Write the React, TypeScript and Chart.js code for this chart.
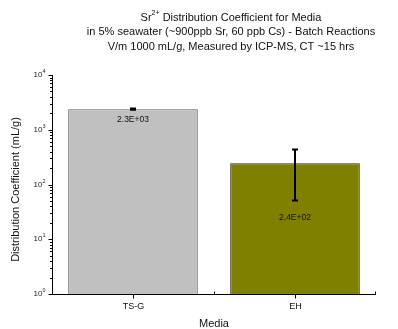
import React, { useEffect, useRef } from 'react';
import { Chart, registerables } from 'chart.js';

Chart.register(...registerables);

const categories = ['TS-G', 'EH'];
const kdValues = [2380, 244];
const kdErrors = [60, 193];
const valueLabels = ['2.3E+03', '2.4E+02'];
const labelOffsets = [10, 17];
const barColors = ['#c0c0c0', '#808000'];
const barBorders = ['#606060', '#2e2e00'];
const yTickExponents = [0, 1, 2, 3, 4];
const titleLine1 = [{ t: 'Sr' }, { t: '2+', sup: true }, { t: ' Distribution Coefficient for Media' }];
const titleLine2 = 'in 5% seawater (~900ppb Sr, 60 ppb Cs) - Batch Reactions';
const titleLine3 = 'V/m 1000 mL/g, Measured by ICP-MS, CT ~15 hrs';
const yAxisTitle = 'Distribution Coefficient (mL/g)';
const xAxisTitle = 'Media';

const FONT = '"Liberation Sans", Arial, sans-serif';

type Part = { t: string; sup?: boolean };

function drawParts(ctx: CanvasRenderingContext2D, parts: Part[], x: number, y: number, align: 'center' | 'right', size: number, supSize: number) {
  const widths = parts.map((p) => {
    ctx.font = `${p.sup ? supSize : size}px ${FONT}`;
    return ctx.measureText(p.t).width;
  });
  const total = widths.reduce((a, b) => a + b, 0);
  let cx = align === 'center' ? x - total / 2 : x - total;
  ctx.textAlign = 'left';
  ctx.textBaseline = 'middle';
  parts.forEach((p, i) => {
    ctx.font = `${p.sup ? supSize : size}px ${FONT}`;
    ctx.fillText(p.t, cx, p.sup ? y - size * 0.38 : y);
    cx += widths[i];
  });
}

const decorPlugin = {
  id: 'decor',
  afterDatasetsDraw(chart: any) {
    const ctx: CanvasRenderingContext2D = chart.ctx;
    const x = chart.scales.x;
    const y = chart.scales.y;
    ctx.save();
    ctx.strokeStyle = '#000';
    ctx.lineWidth = 2;
    kdValues.forEach((v, i) => {
      const px = x.getPixelForValue(i);
      const top = y.getPixelForValue(v + kdErrors[i]);
      const bot = y.getPixelForValue(v - kdErrors[i]);
      ctx.beginPath();
      ctx.moveTo(px, top);
      ctx.lineTo(px, bot);
      ctx.moveTo(px - 3, top);
      ctx.lineTo(px + 3, top);
      ctx.moveTo(px - 3, bot);
      ctx.lineTo(px + 3, bot);
      ctx.stroke();
    });
    ctx.fillStyle = '#111';
    ctx.font = `8.5px ${FONT}`;
    ctx.textAlign = 'center';
    ctx.textBaseline = 'middle';
    kdValues.forEach((v, i) => {
      const px = x.getPixelForValue(i);
      const bot = y.getPixelForValue(v - kdErrors[i]);
      ctx.fillText(valueLabels[i], px, bot + labelOffsets[i]);
    });
    ctx.restore();
  },
  afterDraw(chart: any) {
    const ctx: CanvasRenderingContext2D = chart.ctx;
    const area = chart.chartArea;
    const x = chart.scales.x;
    const y = chart.scales.y;
    ctx.save();
    ctx.strokeStyle = '#000';
    ctx.fillStyle = '#000';
    ctx.lineWidth = 1;
    const ax = Math.round(area.left) + 0.5;
    const ay = Math.round(area.bottom) + 0.5;
    ctx.beginPath();
    ctx.moveTo(ax, area.top);
    ctx.lineTo(ax, ay);
    ctx.lineTo(area.right, ay);
    ctx.stroke();
    yTickExponents.forEach((e) => {
      const py = Math.round(y.getPixelForValue(Math.pow(10, e))) + 0.5;
      ctx.beginPath();
      ctx.moveTo(ax - 4, py);
      ctx.lineTo(ax, py);
      ctx.stroke();
      ctx.fillStyle = '#222';
      drawParts(ctx, [{ t: '10' }, { t: String(e), sup: true }], ax - 7, py - 1, 'right', 8, 5.5);
      if (e < yTickExponents[yTickExponents.length - 1]) {
        for (let k = 2; k <= 9; k++) {
          const my = Math.round(y.getPixelForValue(k * Math.pow(10, e))) + 0.5;
          ctx.beginPath();
          ctx.moveTo(ax - 2.5, my);
          ctx.lineTo(ax, my);
          ctx.stroke();
        }
      }
    });
    categories.forEach((c, i) => {
      const px = Math.round(x.getPixelForValue(i)) + 0.5;
      ctx.beginPath();
      ctx.moveTo(px, ay);
      ctx.lineTo(px, ay + 4);
      ctx.stroke();
      ctx.fillStyle = '#111';
      ctx.font = `9px ${FONT}`;
      ctx.textAlign = 'center';
      ctx.textBaseline = 'middle';
      ctx.fillText(c, px, ay + 12);
    });
    const midX = Math.round((x.getPixelForValue(0) + x.getPixelForValue(1)) / 2) + 0.5;
    [midX, Math.round(area.right) - 0.5].forEach((px) => {
      ctx.beginPath();
      ctx.moveTo(px, ay - 3);
      ctx.lineTo(px, ay);
      ctx.stroke();
    });
    ctx.fillStyle = '#111';
    ctx.font = `11px ${FONT}`;
    ctx.textAlign = 'center';
    ctx.textBaseline = 'middle';
    ctx.fillText(xAxisTitle, (area.left + area.right) / 2, ay + 29);
    ctx.save();
    ctx.translate(16, (area.top + area.bottom) / 2 + 5);
    ctx.rotate(-Math.PI / 2);
    ctx.fillText(yAxisTitle, 0, 0);
    ctx.restore();
    const tx = 231;
    ctx.fillStyle = '#111';
    drawParts(ctx, titleLine1, tx, 17.5, 'center', 11, 7);
    ctx.font = `11px ${FONT}`;
    ctx.textAlign = 'center';
    ctx.textBaseline = 'middle';
    ctx.fillText(titleLine2, tx, 32);
    ctx.fillText(titleLine3, tx, 46.5);
    ctx.restore();
  },
};

export default function App() {
  const ref = useRef<HTMLCanvasElement | null>(null);
  useEffect(() => {
    if (!ref.current) return;
    const chart = new Chart(ref.current, {
      type: 'bar',
      data: {
        labels: categories,
        datasets: [
          {
            data: kdValues,
            backgroundColor: barColors,
            borderColor: barBorders,
            borderWidth: 1,
            barPercentage: 0.8,
            categoryPercentage: 1,
          },
        ],
      },
      options: {
        animation: false,
        responsive: true,
        maintainAspectRatio: false,
        layout: { padding: { top: 75, right: 22, left: 0, bottom: 0 } },
        plugins: {
          legend: { display: false },
          title: { display: false },
          tooltip: { enabled: false },
        },
        scales: {
          x: {
            type: 'category',
            grid: { display: false },
            ticks: { display: false },
            border: { display: false },
            afterFit: (s: any) => {
              s.height = 35;
            },
          },
          y: {
            type: 'logarithmic',
            min: 1,
            max: 10000,
            grid: { display: false },
            ticks: { display: false },
            border: { display: false },
            afterFit: (s: any) => {
              s.width = 52;
            },
          },
        },
      },
      plugins: [decorPlugin],
    });
    return () => chart.destroy();
  }, []);
  return (
    <div style={{ position: 'absolute', left: 0, top: 0, width: 398, height: 329, background: '#fff' }}>
      <canvas ref={ref} />
    </div>
  );
}
